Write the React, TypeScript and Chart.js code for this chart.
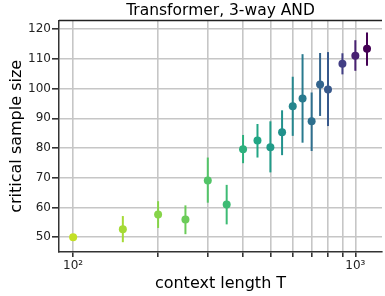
import React, { useEffect, useRef } from "react";
import { Chart, registerables } from "chart.js";

Chart.register(...registerables);

// context length T
const contextLengths = [100, 150, 200, 250, 300, 350, 400, 450, 500, 550, 600, 650, 700, 750, 800, 900, 1000, 1100];
// critical sample size (point estimate)
const criticalSize = [50.0, 52.7, 57.6, 55.9, 69.1, 61.0, 79.6, 82.5, 80.3, 85.3, 94.1, 96.7, 89.0, 101.4, 99.7, 108.4, 111.1, 113.4];
// error bar lower / upper ends
const errLow = [50.0, 48.3, 53.1, 51.0, 61.6, 54.3, 74.9, 76.8, 71.8, 77.6, 84.1, 81.8, 79.0, 90.8, 87.4, 104.8, 106.0, 107.7];
const errHigh = [50.0, 57.1, 62.1, 60.7, 76.8, 67.6, 84.4, 88.1, 89.0, 92.7, 104.0, 111.6, 98.7, 112.0, 112.3, 111.9, 116.3, 118.9];
// x tick positions and labels
const xTickValues = [100, 200, 300, 400, 500, 600, 700, 800, 900, 1000];
const xTickLabels: Record<number, string> = { 100: "10²", 1000: "10³" };
const yTickValues = [50, 60, 70, 80, 90, 100, 110, 120];

const VIRIDIS = [
  "#440154", "#482475", "#414487", "#355f8d", "#2a788e", "#21918c",
  "#22a884", "#44bf70", "#7ad151", "#bddf26", "#fde725",
];
function hexToRgb(h: string) {
  return [parseInt(h.slice(1, 3), 16), parseInt(h.slice(3, 5), 16), parseInt(h.slice(5, 7), 16)];
}
function viridis(t: number) {
  const x = Math.max(0, Math.min(1, t)) * 10;
  const i = Math.min(9, Math.floor(x));
  const f = x - i;
  const a = hexToRgb(VIRIDIS[i]);
  const b = hexToRgb(VIRIDIS[i + 1]);
  const c = a.map((v, k) => Math.round(v + (b[k] - v) * f));
  return `rgb(${c[0]},${c[1]},${c[2]})`;
}
const tMax = Math.max(...contextLengths);
const colors = contextLengths.map((t) => viridis(1 - t / tMax));

const FONT = "'DejaVu Sans', sans-serif";

const errorBarPlugin = {
  id: "errorBars",
  beforeDatasetsDraw(chart: any) {
    const { ctx, scales } = chart;
    ctx.save();
    ctx.lineWidth = 2;
    contextLengths.forEach((t, i) => {
      const x = scales.x.getPixelForValue(t);
      ctx.strokeStyle = colors[i];
      ctx.beginPath();
      ctx.moveTo(x, scales.y.getPixelForValue(errLow[i]));
      ctx.lineTo(x, scales.y.getPixelForValue(errHigh[i]));
      ctx.stroke();
    });
    ctx.restore();
  },
};

const frameTopPlugin = {
  id: "frameTop",
  afterDraw(chart: any) {
    const { ctx, chartArea } = chart;
    ctx.save();
    ctx.strokeStyle = "#222";
    ctx.lineWidth = 1.5;
    ctx.beginPath();
    ctx.moveTo(chartArea.left, chartArea.top);
    ctx.lineTo(chartArea.right, chartArea.top);
    ctx.stroke();
    ctx.restore();
  },
};

export default function App() {
  const ref = useRef<HTMLCanvasElement | null>(null);
  useEffect(() => {
    if (!ref.current) return;
    const chart = new Chart(ref.current, {
      type: "scatter",
      data: {
        datasets: [
          {
            data: contextLengths.map((t, i) => ({ x: t, y: criticalSize[i] })),
            backgroundColor: colors,
            borderWidth: 0,
            pointRadius: 4,
          },
        ],
      },
      options: {
        responsive: false,
        animation: false,
        layout: { padding: 0 },
        plugins: {
          legend: { display: false },
          tooltip: { enabled: false },
          title: {
            display: true,
            fullSize: false,
            text: "Transformer, 3-way AND",
            color: "#000",
            font: { family: FONT, size: 15.5, weight: "normal", lineHeight: 1.2 },
            padding: { top: 2, bottom: 0 },
          },
        },
        scales: {
          x: {
            type: "logarithmic",
            min: 89.1,
            max: 1243,
            afterBuildTicks: (s: any) => {
              s.ticks = xTickValues.map((v) => ({ value: v }));
            },
            afterFit: (s: any) => {
              s.height = 44;
            },
            ticks: {
              autoSkip: false,
              maxRotation: 0,
              color: "#222",
              padding: 2,
              font: { family: FONT, size: 12 },
              callback: (v: any) => xTickLabels[Number(v)] ?? "",
            },
            grid: { color: "#c6c6c6", lineWidth: 1.6, tickLength: 5, tickColor: "#333" },
            border: { display: true, color: "#333", width: 1.5 },
            title: {
              display: true,
              text: "context length T",
              color: "#000",
              font: { family: FONT, size: 16, lineHeight: 1.2 },
              padding: { top: 0, bottom: 2.4 },
            },
          },
          y: {
            type: "linear",
            min: 45,
            max: 122.9,
            afterBuildTicks: (s: any) => {
              s.ticks = yTickValues.map((v) => ({ value: v }));
            },
            afterFit: (s: any) => {
              s.width = 59;
            },
            ticks: {
              color: "#222",
              padding: 1,
              font: { family: FONT, size: 12 },
            },
            grid: { color: "#c6c6c6", lineWidth: 1.6, tickLength: 7, tickColor: "#333" },
            border: { display: true, color: "#333", width: 1.5 },
            title: {
              display: true,
              text: "critical sample size",
              color: "#000",
              font: { family: FONT, size: 16, lineHeight: 1.2 },
              padding: { top: 7, bottom: 0 },
            },
          },
        },
      },
      plugins: [errorBarPlugin, frameTopPlugin],
    } as any);
    return () => chart.destroy();
  }, []);
  return (
    <div style={{ position: "fixed", left: 0, top: 0, width: 385, height: 296, overflow: "hidden", background: "#fff" }}>
      <canvas ref={ref} width={386} height={296} style={{ display: "block" }} />
    </div>
  );
}
